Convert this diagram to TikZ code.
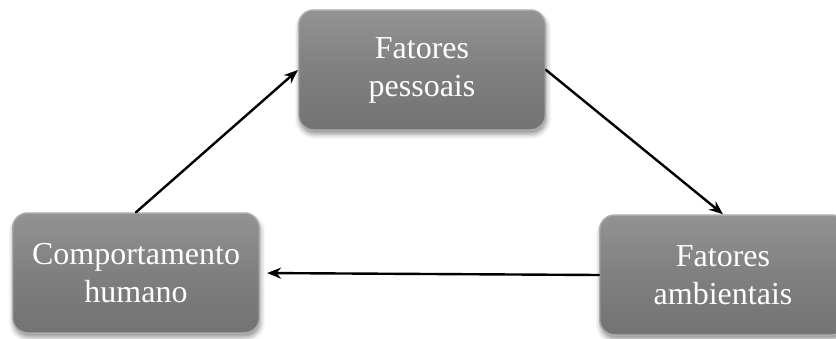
\documentclass[tikz,border=0pt]{standalone}
\usepackage{fontspec}
\setmainfont{Liberation Serif}
\usetikzlibrary{arrows,arrows.meta}
\usetikzlibrary{positioning,shadows.blur}

\begin{document}
\begin{tikzpicture}[x=1pt,y=-1pt,cap=round]
\tikzstyle{factor} = [rectangle, rounded corners=15pt, minimum width=246pt, minimum height=120pt, text width=240pt, align=center, draw=gray!65!white, line width=1.5pt, top color=gray!85!white, bottom color=gray!90!black, middle color=gray, text=white, font=\fontsize{32pt}{38pt}\selectfont, blur shadow={shadow xshift=1pt, shadow yshift=-4pt, shadow blur radius=5pt, shadow opacity=45}]
\tikzstyle{arrow} = [line width=2.4pt,->,>={Stealth[length=14pt,width=11pt]}]

\useasboundingbox (0,0) rectangle (836,338);

\node (pessoais) [factor] at (422,70) {Fatores\\pessoais};
\node (comportamento) [factor] at (136,273) {Comportamento\\humano};
\node (ambientais) [factor] at (723,275) {Fatores\\ambientais};

\draw [arrow] (comportamento.north) -- (pessoais.west);
\draw [arrow] (pessoais.east) -- (ambientais.north);
\draw [arrow, shorten >=7pt] (ambientais.west) -- (comportamento.east);

\end{tikzpicture}
\end{document}
